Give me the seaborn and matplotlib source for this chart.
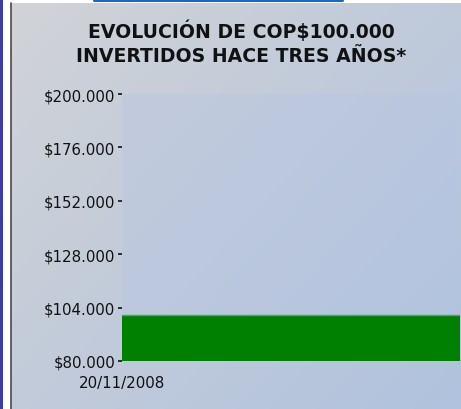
import numpy as np
import pandas as pd
import matplotlib
matplotlib.use("Agg")
import matplotlib.pyplot as plt
from matplotlib.patches import Rectangle
from matplotlib.lines import Line2D
import seaborn as sns

# Data
dates = ["20/11/2008", "20/11/2011"]
values = [100600, 100600]
y_ticks = [80000, 104000, 128000, 152000, 176000, 200000]
y_labels = ["$80.000", "$104.000", "$128.000", "$152.000", "$176.000", "$200.000"]
title = "EVOLUCIÓN DE COP$100.000\nINVERTIDOS HACE TRES AÑOS*"

df = pd.DataFrame({"fecha": pd.to_datetime(dates, dayfirst=True), "valor": values})

sns.set_style("white")
plt.rcParams['font.family'] = ['DejaVu Sans']

W, H = 461, 410
fig = plt.figure(figsize=(W / 100, H / 100), dpi=100)
fig.patch.set_facecolor("white")

# gradient panel background
bg = fig.add_axes([11 / W, 0, 1 - 11 / W, (H - 4) / H])
bg.set_axis_off()
yy, xx = np.mgrid[0:1:200j, 0:1:200j]
t = np.clip((xx * 0.55 + yy * 0.45), 0, 1)[..., None]
c0 = np.array([209, 211, 215]) / 255
c1 = np.array([176, 194, 222]) / 255
img = c0 * (1 - t) + c1 * t
bg.imshow(img, aspect="auto", extent=[0, 1, 0, 1], origin="upper")

# decorations: left blue band, grey border, top blue line
fig.add_artist(Rectangle((0, 0), 3 / W, 1, transform=fig.transFigure,
                         color="#3a3aaa", lw=0))
fig.add_artist(Line2D([10.5 / W, 10.5 / W], [0, (H - 4) / H],
                      transform=fig.transFigure, color="#4a4a4a", lw=1.2))
fig.add_artist(Line2D([94 / W, 342 / W], [1 - 1 / H, 1 - 1 / H],
                      transform=fig.transFigure, color="#1a66cc", lw=2.2))

ax = fig.add_axes([122 / W, 1 - 362 / H, (460 - 122) / W, (362 - 95) / H])
ax.set_facecolor((0.70, 0.77, 0.90, 0.30))

ax.fill_between(df["fecha"], 80000, df["valor"], color="#008000", lw=0)
sns.lineplot(data=df, x="fecha", y="valor", ax=ax, color="#5a9f5a", lw=1)

ax.set_xlim(df["fecha"].iloc[0], df["fecha"].iloc[-1])
ax.set_ylim(80000, 200000)
ax.set_yticks(y_ticks)
ax.set_yticklabels(y_labels)
ax.set_xticks([df["fecha"].iloc[0]])
ax.set_xticklabels([dates[0]])
ax.set_xlabel("")
ax.set_ylabel("")
for s in ax.spines.values():
    s.set_visible(False)
ax.tick_params(axis="y", length=3, width=1.2, color="#111111", pad=2,
               labelsize=10.8, labelcolor="#111111", left=True)
ax.tick_params(axis="x", length=0, pad=10, labelsize=10.8, labelcolor="#111111")

fig.text(0.523, 0.895, title, ha="center", va="center", fontsize=13.6,
         fontweight="bold", color="#111111", linespacing=1.35)

fig.savefig("out.png", dpi=100)
